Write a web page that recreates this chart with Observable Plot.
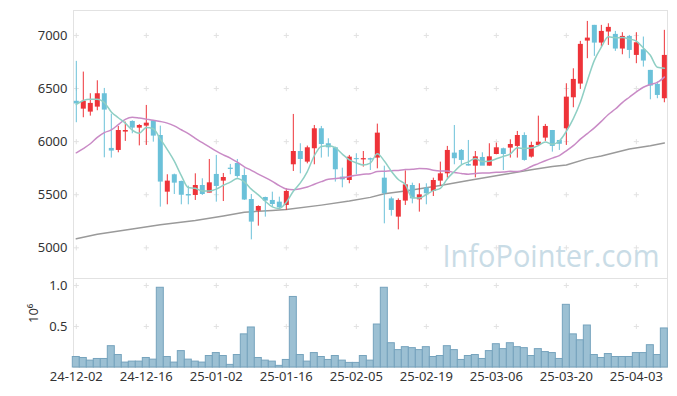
<!DOCTYPE html>
<html><head><meta charset="utf-8">
<script src="https://cdn.jsdelivr.net/npm/d3@7"></script>
<script src="https://cdn.jsdelivr.net/npm/@observablehq/plot@0.6"></script>
<style>
html,body{margin:0;padding:0;background:#fff;}
#chart{position:relative;width:677px;height:396px;overflow:hidden;font-family:"Noto Sans",sans-serif;}
#chart svg{position:absolute;left:0;display:block;}
</style></head><body><div id="chart"></div>
<script>
const dates = [
"24-12-02","24-12-03","24-12-04","24-12-05","24-12-06","24-12-09","24-12-10","24-12-11","24-12-12","24-12-13",
"24-12-16","24-12-17","24-12-18","24-12-19","24-12-20","24-12-23","24-12-24","24-12-26","24-12-27","24-12-30",
"25-01-02","25-01-03","25-01-06","25-01-07","25-01-08","25-01-09","25-01-10","25-01-13","25-01-14","25-01-15",
"25-01-16","25-01-17","25-01-20","25-01-21","25-01-22","25-01-23","25-01-24","25-01-31","25-02-03","25-02-04",
"25-02-05","25-02-06","25-02-07","25-02-10","25-02-11","25-02-12","25-02-13","25-02-14","25-02-17","25-02-18",
"25-02-19","25-02-20","25-02-21","25-02-24","25-02-25","25-02-26","25-02-27","25-02-28","25-03-04","25-03-05",
"25-03-06","25-03-07","25-03-10","25-03-11","25-03-12","25-03-13","25-03-14","25-03-17","25-03-18","25-03-19",
"25-03-20","25-03-21","25-03-24","25-03-25","25-03-26","25-03-27","25-03-28","25-03-31","25-04-01","25-04-02",
"25-04-03","25-04-04","25-04-07","25-04-08","25-04-09"];

const open = [
6380,6306,6278,6325,6451,5936,5917,6090,6190,6127,
6146,6196,6058,5524,5688,5625,5502,5493,5587,5515,
5691,5628,5750,5794,5681,5455,5345,5474,5446,5430,
5399,5782,5907,5807,5933,6121,5980,5942,5666,5634,
5840,5828,5840,5845,5656,5461,5289,5440,5587,5452,
5562,5531,5628,5697,5892,5917,5785,5769,5851,5769,
5879,5933,5939,5955,6058,5854,5964,6033,6105,6011,
6121,6413,6542,6947,7095,6928,7032,7010,6872,6991,
6812,6865,6671,6539,6404];

const high = [
6756,6655,6451,6573,6501,6259,6143,6184,6196,6160,
6341,6196,6146,5688,5694,5628,5581,5697,5650,5832,
5870,5700,5785,5832,5744,5502,5395,5477,5524,5477,
5556,6256,5980,5958,6152,6143,6027,5948,5750,5870,
5886,5907,5845,6165,5769,5477,5461,5725,5609,5603,
5603,5656,5807,5955,6152,5926,6011,5907,5895,5980,
5986,5939,6017,6096,6083,5995,6240,6162,6105,6011,
6545,6686,6944,7132,7095,7095,7110,7038,7026,7000,
7026,6985,6671,6561,7048];

const low = [
6178,6225,6240,6291,5848,5845,5895,6002,6074,5960,
5964,5995,5383,5405,5502,5405,5405,5446,5493,5518,
5430,5436,5688,5656,5446,5075,5204,5289,5383,5367,
5352,5719,5697,5791,5782,5845,5854,5619,5565,5603,
5688,5760,5728,5744,5226,5298,5169,5399,5414,5336,
5405,5483,5581,5656,5782,5782,5769,5659,5807,5769,
5876,5728,5845,5845,5816,5845,5964,6002,5901,5917,
5964,6319,6492,6781,6803,6891,6906,6850,6818,6781,
6734,6702,6394,6404,6366];

const close = [
6355,6379,6360,6451,6297,5911,6105,6105,6127,6152,
6174,6052,5619,5628,5609,5495,5488,5587,5502,5612,
5578,5662,5738,5672,5450,5242,5389,5440,5408,5377,
5531,5907,5832,5942,6121,5973,5942,5735,5640,5854,
5830,5840,5826,6080,5509,5352,5446,5593,5461,5499,
5509,5634,5697,5917,5839,5823,5770,5857,5769,5857,
5942,5879,5973,6058,5823,5964,5995,6143,5955,5975,
6419,6586,6916,6975,6928,7038,7076,6872,6991,6859,
6931,6759,6523,6435,6812];

// volume, millions of shares
const volume = [
0.128,0.116,0.084,0.104,0.104,0.26,0.152,0.06,0.072,0.072,
0.116,0.096,0.972,0.128,0.06,0.20,0.096,0.072,0.06,0.14,
0.176,0.14,0.032,0.152,0.404,0.488,0.116,0.084,0.072,0.02,
0.092,0.86,0.152,0.072,0.176,0.128,0.092,0.14,0.084,0.056,
0.056,0.14,0.084,0.524,0.972,0.296,0.212,0.248,0.236,0.212,
0.248,0.128,0.14,0.26,0.212,0.092,0.14,0.152,0.104,0.20,
0.284,0.224,0.296,0.248,0.236,0.14,0.224,0.188,0.176,0.104,
0.764,0.404,0.332,0.512,0.152,0.116,0.164,0.128,0.128,0.128,
0.176,0.176,0.272,0.152,0.476];

const ma5 = [
6350,6388,6400,6400,6368,6280,6225,6174,6109,6080,
6133,6122,6025,5925,5816,5680,5567,5561,5536,5536,
5553,5588,5619,5653,5621,5553,5499,5439,5386,5371,
5429,5533,5611,5718,5867,5955,5962,5943,5882,5829,
5800,5780,5798,5886,5817,5721,5643,5596,5472,5470,
5502,5539,5560,5651,5719,5782,5809,5841,5812,5815,
5839,5861,5884,5942,5935,5939,5963,5997,5976,6006,
6097,6216,6370,6574,6765,6889,6987,6978,6981,6967,
6946,6882,6813,6701,6692];

const ma20 = [
5895,5935,5980,6040,6085,6110,6160,6210,6230,6222,
6212,6202,6190,6174,6148,6112,6075,6030,5990,5950,
5911,5876,5845,5806,5763,5730,5694,5661,5625,5586,
5554,5547,5557,5573,5599,5623,5645,5653,5660,5672,
5684,5693,5698,5718,5721,5726,5729,5737,5740,5746,
5745,5731,5724,5723,5709,5701,5693,5699,5705,5705,
5711,5713,5720,5719,5735,5766,5793,5820,5845,5869,
5914,5962,6023,6076,6130,6191,6256,6307,6368,6418,
6468,6512,6539,6558,6608];

const ma60Idx = [0,3,8,12,17,21,24,28,30,35,39,42,44,47,52,56,61,65,68,70,73,75,79,82,84];
const ma60Val = [5085,5128,5178,5218,5258,5300,5335,5352,5360,5402,5440,5475,5510,5534,5587,5635,5690,5735,5765,5780,5840,5865,5930,5962,5988];

const yTicks = [5000,5500,6000,6500,7000];
const volTicks = [0.5,1.0];
const xTickIdx = [0,10,20,30,40,50,60,70,80];
const watermark = "InfoPointer.com";
const volLabel = "10⁶";

const candles = dates.map((d,i)=>({i, date:d, open:open[i], high:high[i], low:low[i], close:close[i], vol:volume[i], ma5:ma5[i], ma20:ma20[i]}));
const ma60 = ma60Idx.map((i,k)=>({i, v:ma60Val[k]}));

const UP = "#ee3339", DOWN = "#6bc1d9";
const col = d => d.close >= d.open ? UP : DOWN;
const xDomain = [-0.4, 84.45];
const gridTop = xTickIdx.flatMap(x => yTicks.map(y => ({x, y})));
const gridVol = xTickIdx.flatMap(x => volTicks.map(y => ({x, y})));
const baseStyle = {fontFamily:"'Noto Sans', sans-serif", fontSize:"13px", color:"#333", background:"transparent", overflow:"visible"};

const topChart = Plot.plot({
  width:677, height:279, marginTop:10, marginBottom:1, marginLeft:73, marginRight:10,
  style: baseStyle,
  x:{domain:xDomain, axis:null},
  y:{domain:[4711,7235], ticks:yTicks, tickSize:0, tickPadding:6, tickFormat:d=>String(d), label:null},
  marks:[
    Plot.frame({stroke:"#e2e2e2"}),
    Plot.dot(gridTop, {x:"x", y:"y", symbol:"plus", r:1.8, stroke:"#e2e2e2", strokeWidth:1}),
    Plot.text([watermark], {frameAnchor:"bottom-right", text:d=>d, dx:-8, dy:-12, lineAnchor:"bottom", textAnchor:"end", fontSize:31, fontFamily:"'Open Sans', sans-serif", fill:"#c9dce6"}),
    Plot.line(ma60, {x:"i", y:"v", stroke:"#9a9a9a", strokeWidth:1.5}),
    Plot.ruleX(candles, {x:"i", y1:"low", y2:"high", stroke:col, strokeWidth:1}),
    Plot.ruleX(candles, {x:"i", y1:"open", y2:"close", stroke:col, strokeWidth:5}),
    Plot.line(candles, {x:"i", y:"ma20", stroke:"#c98bc6", strokeWidth:1.5, curve:"monotone-x"}),
    Plot.line(candles, {x:"i", y:"ma5", stroke:"#8fcfc4", strokeWidth:1.5, curve:"monotone-x"})
  ]
});

const volChart = Plot.plot({
  width:677, height:118, marginTop:0, marginBottom:29, marginLeft:73, marginRight:10,
  style: baseStyle,
  x:{domain:xDomain, ticks:xTickIdx, tickFormat:i=>dates[i], tickSize:0, tickPadding:4, label:null},
  y:{domain:[0,1.085], ticks:volTicks, tickFormat:d=>d.toFixed(1), tickSize:0, tickPadding:6, label:null},
  marks:[
    Plot.frame({stroke:"#e2e2e2"}),
    Plot.dot(gridVol, {x:"x", y:"y", symbol:"plus", r:1.8, stroke:"#e2e2e2", strokeWidth:1}),
    Plot.rectY(candles, {x1:d=>d.i-0.5, x2:d=>d.i+0.5, y:"vol", fill:"#9cc0d3", stroke:"#76a3bd", strokeWidth:1}),
    Plot.text([volLabel], {frameAnchor:"left", text:d=>d, rotate:-90, dx:-40, fontSize:13, fill:"#333"})
  ]
});

topChart.style.top = "0px";
volChart.style.top = "278px";
const root = document.getElementById("chart");
root.appendChild(topChart);
root.appendChild(volChart);
topChart.querySelectorAll("text").forEach(t => {
  if (t.textContent === watermark) { t.setAttribute("textLength", "217"); t.setAttribute("lengthAdjust", "spacingAndGlyphs"); }
});
</script></body></html>
